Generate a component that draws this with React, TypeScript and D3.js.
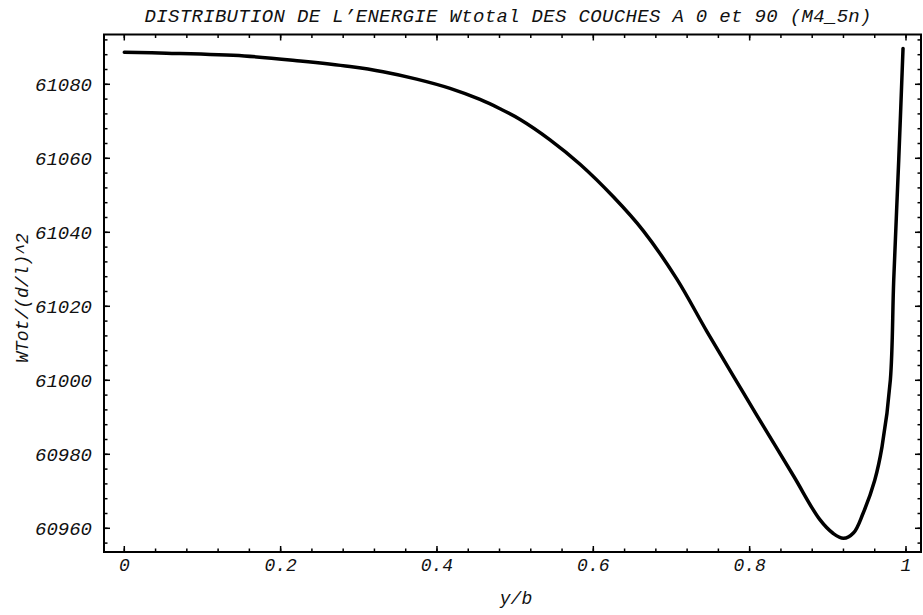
import React from "react";
import * as d3 from "d3";

const title = "DISTRIBUTION DE L\u2019ENERGIE Wtotal DES COUCHES A 0 et 90 (M4_5n)";
const xLabel = "y/b";
const yLabel = "WTot/(d/l)^2";

const xTicks = [0, 0.2, 0.4, 0.6, 0.8, 1];
const xTickLabels = ["0", "0.2", "0.4", "0.6", "0.8", "1"];
const yTicks = [60960, 60980, 61000, 61020, 61040, 61060, 61080];
const yTickLabels = ["60960", "60980", "61000", "61020", "61040", "61060", "61080"];

const yb = [
  0, 0.054, 0.1535, 0.225, 0.2886, 0.331, 0.374, 0.4167, 0.455, 0.4806, 0.5064,
  0.5446, 0.583, 0.6256, 0.664, 0.7067, 0.745, 0.779, 0.809, 0.856, 0.8896,
  0.907, 0.92, 0.933, 0.945, 0.96, 0.9693, 0.98, 0.9843, 0.9907, 0.9962,
];
const wtot = [
  61088.65, 61088.4, 61087.65, 61086.3, 61084.8, 61083.4, 61081.4, 61078.9,
  61075.9, 61073.4, 61070.5, 61065.0, 61058.4, 61049.6, 61040.4, 61027.4,
  61013.3, 61001.2, 60990.6, 60974.2, 60962.4, 60958.6, 60957.3, 60958.8,
  60964.0, 60973.0, 60982.0, 61000.1, 61027.1, 61059.5, 61089.7,
];

const W = 923;
const H = 615;
const frame = { left: 104, right: 921, top: 34.5, bottom: 552 };

export default function App() {
  const x = d3.scaleLinear().domain([0, 1]).range([124.3, 906]);
  const y = d3.scaleLinear().domain([60960, 61080]).range([528.3, 84.3]);

  const xMin = x.invert(frame.left);
  const xMax = x.invert(frame.right);
  const yMin = y.invert(frame.bottom);
  const yMax = y.invert(frame.top);

  const xMinor = d3.range(0, 1.0001, 0.04).filter((v) => v >= xMin && v <= xMax);
  const yMinor = d3.range(60952, 61100, 4).filter((v) => v >= yMin && v <= yMax);

  const pts: [number, number][] = yb.map((v, i) => [v, wtot[i]]);
  const line = d3
    .line<[number, number]>()
    .x((d) => x(d[0]))
    .y((d) => y(d[1]))
    .curve(d3.curveCatmullRom.alpha(0.5));

  const font = "'Liberation Mono', 'Courier New', monospace";
  const maj = 6;
  const min = 3.5;

  return (
    <svg
      width={W}
      height={H}
      style={{ position: "absolute", left: 0, top: 0, background: "#fff" }}
      fontFamily={font}
      fontStyle="italic"
    >
      <rect x={0} y={0} width={W} height={H} fill="#fff" />
      <text x={508} y={22} fontSize={19} textAnchor="middle" textLength={727} lengthAdjust="spacing" fill="#111">
        {title}
      </text>

      <rect
        x={frame.left}
        y={frame.top}
        width={frame.right - frame.left}
        height={frame.bottom - frame.top}
        fill="none"
        stroke="#000"
        strokeWidth={2}
      />

      <g stroke="#000" strokeWidth={1.5}>
        {xMinor.map((v, i) => (
          <g key={"xm" + i}>
            <line x1={x(v)} x2={x(v)} y1={frame.bottom} y2={frame.bottom - min} />
            <line x1={x(v)} x2={x(v)} y1={frame.top} y2={frame.top + min} />
          </g>
        ))}
        {xTicks.map((v, i) => (
          <g key={"xM" + i}>
            <line x1={x(v)} x2={x(v)} y1={frame.bottom} y2={frame.bottom - maj} />
            <line x1={x(v)} x2={x(v)} y1={frame.top} y2={frame.top + maj} />
          </g>
        ))}
        {yMinor.map((v, i) => (
          <g key={"ym" + i}>
            <line x1={frame.left} x2={frame.left + min} y1={y(v)} y2={y(v)} />
            <line x1={frame.right} x2={frame.right - min} y1={y(v)} y2={y(v)} />
          </g>
        ))}
        {yTicks.map((v, i) => (
          <g key={"yM" + i}>
            <line x1={frame.left} x2={frame.left + maj} y1={y(v)} y2={y(v)} />
            <line x1={frame.right} x2={frame.right - maj} y1={y(v)} y2={y(v)} />
          </g>
        ))}
      </g>

      {xTicks.map((v, i) => (
        <text key={"xl" + i} x={x(v)} y={571} fontSize={18} textAnchor="middle" fill="#111">
          {xTickLabels[i]}
        </text>
      ))}
      {yTicks.map((v, i) => (
        <text
          key={"yl" + i}
          x={92}
          y={y(v)}
          dy="0.36em"
          fontSize={19}
          textAnchor="end"
          fill="#111"
        >
          {yTickLabels[i]}
        </text>
      ))}

      <text x={516} y={604} fontSize={18} textAnchor="middle" fill="#111">
        {xLabel}
      </text>
      <text
        transform="translate(28,298) rotate(-90)"
        fontSize={18}
        textAnchor="middle"
        fill="#111"
      >
        {yLabel}
      </text>

      <path d={line(pts) || ""} fill="none" stroke="#000" strokeWidth={3.5} strokeLinejoin="round" strokeLinecap="round" />
    </svg>
  );
}
